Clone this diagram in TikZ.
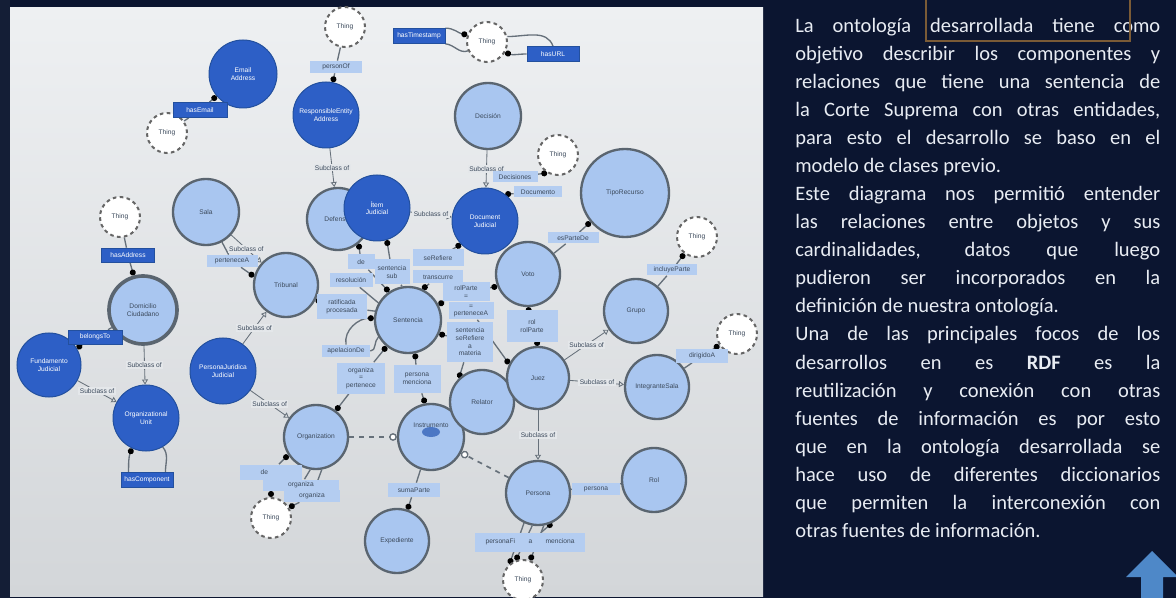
\documentclass[tikz,border=0pt]{standalone}
\usepackage{fontspec}
\setmainfont{Carlito}
\newfontfamily\diagfont{Liberation Sans}
\usetikzlibrary{arrows.meta,calc}
\definecolor{navy}{HTML}{0B1530}
\definecolor{strip}{HTML}{141E36}
\definecolor{paneltop}{HTML}{EEF0F2}
\definecolor{panelbot}{HTML}{D3D6D9}
\definecolor{sublabbg}{HTML}{E4E7EA}
\definecolor{dkblue}{HTML}{2D5FC6}
\definecolor{dkborder}{HTML}{23509E}
\definecolor{ltblue}{HTML}{A9C6F0}
\definecolor{ltborder}{HTML}{5A6570}
\definecolor{labblue}{HTML}{B4CDF1}
\definecolor{edgegray}{HTML}{66707A}
\definecolor{thinggray}{HTML}{666666}
\definecolor{txtgray}{HTML}{3C4A5C}
\definecolor{insblue}{HTML}{4C77C4}
\definecolor{arrowblue}{HTML}{4E88C8}
\definecolor{boxbrown}{HTML}{7B5B36}
\definecolor{textwhite}{HTML}{E8ECF3}
\newcommand\dgfont{\diagfont\fontsize{4}{4.6}\selectfont}
\newcommand\jline[1]{\makebox[219pt][s]{#1}}
\pgfdeclarelayer{back}
\pgfdeclarelayer{edges}
\pgfsetlayers{back,edges,main}
\tikzset{
  dnode/.style={circle, fill=dkblue, draw=dkborder, line width=0.6pt, minimum size=#1*0.6pt, inner sep=0pt, text=white, font=\dgfont, align=center},
  lnode/.style={circle, fill=ltblue, draw=ltborder, line width=1.4pt, minimum size=#1*0.6pt, inner sep=0pt, text=txtgray, font=\dgfont, align=center},
  tnode/.style={circle, fill=white, draw=thinggray, line width=1.2pt, dash pattern=on 2.2pt off 2pt, minimum size=40*0.6pt, inner sep=0pt, text=txtgray, font=\dgfont},
  dlab/.style 2 args={rectangle, fill=dkblue, draw=dkborder, line width=0.4pt, minimum width=#1*0.6pt, minimum height=#2*0.6pt, inner sep=0pt, text=white, font=\dgfont, align=center},
  llab/.style 2 args={rectangle, fill=labblue, minimum width=#1*0.6pt, minimum height=#2*0.6pt, inner sep=0pt, text=txtgray, font=\dgfont, align=center},
  rel/.style={draw=edgegray, line width=0.8pt},
  dot/.style={-{Circle[length=3.6pt,color=black]}},
  sub/.style={draw=edgegray, line width=0.5pt, -{Triangle[open,length=3pt,width=3.6pt]}},
  sublab/.style={fill=sublabbg, inner sep=0.8pt, text=txtgray, font=\dgfont},
  dsh/.style={draw=edgegray, line width=1pt, dash pattern=on 3pt off 3pt, -{Circle[length=4.6pt,color=edgegray,fill=white,line width=0.8pt]}},
  txt/.style={anchor=base west, inner sep=0pt, text=textwhite, font=\fontsize{12.3}{14}\selectfont}
}
\begin{document}
\begin{tikzpicture}[x=0.6pt,y=-0.6pt]
\useasboundingbox (0,0) rectangle (1176,598);
\begin{pgfonlayer}{back}
  \fill[navy] (0,0) rectangle (1176,598);
  \fill[strip] (0,0) rectangle (10,598);
  \shade[top color=paneltop, bottom color=panelbot] (10,8) rectangle (763,596);
\end{pgfonlayer}

% ---------- dark class nodes ----------
\node[dnode=68] (em) at (243,74) {Email\\Address};
\node[dnode=66] (rp) at (326,115) {ResponsibleEntity\\Address};
\node[lnode=62] (def) at (338,219) {Defensor};
\node[dnode=66] (it) at (377,208) {Ítem\\Judicial};
\node[dnode=66] (doc) at (485,221) {Document\\Judicial};
\node[dnode=64] (fd) at (49,365) {Fundamento\\Judicial};
\node[dnode=66] (pj) at (223,371) {PersonaJuridica\\Judicial};
\node[dnode=66] (dg) at (146,418) {Organizational\\Unit};

% ---------- light class nodes ----------
\node[lnode=66] (sala) at (206,212) {Sala};
\node[lnode=64] (trib) at (286,285) {Tribunal};
\node[lnode=66] (sent) at (408,320) {Sentencia};
\node[lnode=66] (dec) at (488,116) {Decisión};
\node[lnode=88] (tipo) at (625,193) {TipoRecurso};
\node[lnode=64] (voto) at (528,274) {Voto};
\node[lnode=64] (grupo) at (636,311) {Grupo};
\node[lnode=64] (cat) at (657,387) {IntegranteSala};
\node[lnode=64] (org) at (316,437) {Organization};
\node[lnode=66] (ins) at (431,437) {\raisebox{14pt}{Instrumento}};
\fill[insblue] ($(ins.center)+(0,-5)$) ellipse (5.4pt and 3pt);
\node[lnode=64] (rel) at (482,402) {Relator};
\node[lnode=62] (juez) at (538,378) {Juez};
\node[lnode=64] (per) at (538,493) {Persona};
\node[lnode=64] (rol) at (654,480) {Rol};
\node[lnode=64] (paq) at (397,541) {Expediente};
\node[lnode=68, line width=2.2pt] (dom) at (143,310) {Domicilio\\Ciudadano};

% ---------- Thing nodes ----------
\node[tnode] (t1) at (345,27) {Thing};
\node[tnode] (t2) at (167,133) {Thing};
\node[tnode] (t3) at (487,42) {Thing};
\node[tnode] (t4) at (558,155) {Thing};
\node[tnode] (t5) at (120,217) {Thing};
\node[tnode] (t6) at (697,237) {Thing};
\node[tnode] (t7) at (737,334) {Thing};
\node[tnode] (t8) at (271,518) {Thing};
\node[tnode] (t9) at (523,580) {Thing};

% ---------- dark property labels ----------
\node[dlab={54}{15}] (lEmail) at (200,110) {hasEmail};
\node[dlab={52}{15}] (lTime) at (419,36) {hasTimestamp};
\node[dlab={52}{15}] (lURL) at (553,54) {hasURL};
\node[dlab={53}{14}] (lAddr) at (128,255) {hasAddress};
\node[dlab={54}{14}] (lBel) at (95,337) {belongsTo};
\node[dlab={52}{15}] (lCon) at (147,480) {hasComponent};

% ---------- light property labels ----------
\node[llab={52}{12}] (lPer) at (336,67) {personOf};
\node[llab={45}{11}] (lDecs) at (515,177) {Decisiones};
\node[llab={48}{11}] (lDocs) at (538,192) {Documento};
\node[llab={51}{11}] (lEsP) at (573,238) {esParteDe};
\node[llab={50}{11}] (lInc) at (672,270) {incluyeParte};
\node[llab={52}{13}] (lDir) at (702,356) {dirigidoA};
\node[llab={51}{12}] (lPert) at (232,261) {perteneceA};
\node[llab={50}{25}] (lRat) at (342,307) {ratificada\\procesada};
\node[llab={48}{12}] (lApe) at (346,351) {apelacionDe};
\node[llab={48}{31}] (lOrgP) at (361,378) {organiza\\=\\pertenece};
\node[llab={43}{14}] (lRes) at (351,280) {resolución};
\node[llab={27}{15}] (lDe) at (361,262) {de};
\node[llab={35}{25}] (lSS) at (392,272) {sentencia\\sub};
\node[llab={51}{17}] (lSeP) at (438,258) {seRefiere};
\node[llab={50}{13}] (lTra) at (438,277) {transcurre};
\node[llab={47}{19}] (lRolP) at (466,292) {rolParte\\=};
\node[llab={45}{17}] (lPerA) at (471,311) {=\\perteneceA};
\node[llab={46}{40}] (lMat) at (470,342) {sentencia\\seRefiere\\a\\materia};
\node[llab={47}{28}] (lPM) at (417,379) {persona\\menciona};
\node[llab={51}{32}] (lRol2) at (532,326) {rol\\rolParte};
\node[llab={52}{14}] (lSum) at (414,490) {sumaParte};
\node[llab={48}{12}] (lPers) at (596,489) {persona};
\node[llab={110}{19}] (lFi) at (530,542) {personaFi\quad\quad a\quad\quad menciona};
\node[llab={62}{15}] (lO1) at (271,472) {\hspace*{-8pt}de};
\node[llab={76}{11}] (lO2) at (301,485) {organiza};
\node[llab={56}{12}] (lO3) at (312,496) {organiza};

% ---------- connectors ----------
\begin{pgfonlayer}{edges}
  \draw[rel] (t1) -- (lPer);
  \draw[rel,dot] (lPer) -- (rp);
  \draw[rel] (t2) -- (lEmail);
  \draw[rel,dot] (lEmail) -- (em);
  \draw[rel,dot] (lTime.north east) to[out=0,in=170] (t3.160);
  \draw[rel] (lTime.south east) to[out=-5,in=200] (t3.205);
  \draw[rel] (t3.15) to[out=0,in=110] (lURL.north);
  \draw[rel,dot] (lURL.west) to[out=180,in=-20] (t3.-30);
  \draw[rel] (t5) -- (lAddr);
  \draw[rel,dot] (lAddr) -- (dom);
  \draw[rel] (dom) -- (lBel);
  \draw[rel,dot] (lBel) -- (fd);
  \draw[rel,dot] ($(lCon.north west)!0.15!(lCon.north east)$) to[out=90,in=-110] (dg.-115);
  \draw[rel] ($(lCon.north west)!0.85!(lCon.north east)$) to[out=90,in=-50] (dg.-60);
  \draw[rel] (sala) -- (lPert);
  \draw[rel,dot] (lPert) -- (trib.165);
  \draw[rel,dot] (lRat) -- (trib.-27);
  \draw[rel] (lRat) -- (sent.165);
  \draw[rel,dot] (lDe) -- (def.-50);
  \draw[rel,dot] (lDe) -- (sent.124);
  \draw[rel,dot] (lSS) -- (it.-73);
  \draw[rel] (lSS) -- (sent.100);
  \draw[rel] (lRes) -- (sent.150);
  \draw[rel,dot] (lSeP) -- (doc.-136);
  \draw[rel,dot] (lTra) -- (sent.65);
  \draw[rel,dot] (lRolP) -- (sent.27);
  \draw[rel,dot] (lRolP) -- (voto.-158);
  \draw[rel,dot] (lPerA) -- (juez.154);
  \draw[rel,dot] (lMat) -- (sent.-24);
  \draw[rel,dot] (lMat) -- (rel.134);
  \draw[rel,dot] (lApe.north) to[out=100,in=180] (sent.177);
  \draw[rel] (lApe.east) to[out=0,in=-140] (sent.-150);
  \draw[rel,dot] (lOrgP) -- (sent.-129);
  \draw[rel,dot] (lOrgP) -- (org.53);
  \draw[rel,dot] (lPM) -- (sent.-78);
  \draw[rel,dot] (lPM) -- (ins.100);
  \draw[rel,dot] (lDecs) -- (t4.-121);
  \draw[rel,dot] (lDocs) -- (doc.53);
  \draw[rel] (voto) -- (lEsP);
  \draw[rel,dot] (lEsP) -- (tipo.-140);
  \draw[rel,dot] (lRol2) -- (voto.south);
  \draw[rel,dot] (lRol2) -- (juez.north);
  \draw[rel] (grupo) -- (lInc);
  \draw[rel,dot] (lInc) -- (t6);
  \draw[rel] (cat) -- (lDir);
  \draw[rel,dot] (lDir) -- (t7);
  \draw[rel] (ins) -- (lSum);
  \draw[rel,dot] (lSum) -- (paq);
  \draw[rel] (per) -- (rol);
  \draw[rel,dot] (per.-115) -- (t9.130);
  \draw[rel,dot] (per.-100) -- (t9.110);
  \draw[rel,dot] (per.-80) -- (t9.70);
  \draw[rel,dot] (lFi) -- (per.-65);
  \draw[rel,dot] (lO1) -- (org.-147);
  \draw[rel] (org.-100) -- (lO2);
  \draw[rel] (org.-80) -- (lO3);
  \draw[rel,dot] (lO1) -- (t8.north);
  \draw[rel,dot] (lO3) -- (t8.30);
  \draw[dsh] (org) -- (ins);
  \draw[dsh] (per) -- (ins);
  % subclass links
  \draw[sub] (rp) -- node[sublab]{Subclass of} (def);
  \draw[sub] (dec) -- node[sublab]{Subclass of} (doc);
  \draw[sub] (it) -- node[sublab]{Subclass of} (doc);
  \draw[sub] (sala) -- node[sublab]{Subclass of} (trib);
  \draw[sub] (pj) -- node[sublab]{Subclass of} (trib);
  \draw[sub] (pj) -- node[sublab]{Subclass of} (org);
  \draw[sub] (dom) -- node[sublab]{Subclass of} (dg);
  \draw[sub] (fd) -- node[sublab]{Subclass of} (dg);
  \draw[sub] (juez) -- node[sublab]{Subclass of} (grupo);
  \draw[sub] (juez) -- node[sublab]{Subclass of} (cat);
  \draw[sub] (juez) -- node[sublab]{Subclass of} (per);
\end{pgfonlayer}

% ---------- right text panel ----------
\node[txt] (tx1) at (795,33) {\jline{La ontología desarrollada tiene como}};
\node[txt] (tx2) at (795,61) {\jline{objetivo describir los componentes y}};
\node[txt] (tx3) at (795,89) {\jline{relaciones que tiene una sentencia de}};
\node[txt] (tx4) at (795,117) {\jline{la Corte Suprema con otras entidades,}};
\node[txt] (tx5) at (795,145) {\jline{para esto el desarrollo se baso en el}};
\node[txt] (tx6) at (795,173) {modelo de clases previo.};
\node[txt] (tx7) at (795,201) {\jline{Este diagrama nos permitió entender}};
\node[txt] (tx8) at (795,229) {\jline{las relaciones entre objetos y sus}};
\node[txt] (tx9) at (795,257) {\jline{cardinalidades, datos que luego}};
\node[txt] (tx10) at (795,285) {\jline{pudieron ser incorporados en la}};
\node[txt] (tx11) at (795,313) {definición de nuestra ontología.};
\node[txt] (tx12) at (795,341) {\jline{Una de las principales focos de los}};
\node[txt] (tx13) at (795,369) {\jline{desarrollos en es \textbf{RDF} es la}};
\node[txt] (tx14) at (795,397) {\jline{reutilización y conexión con otras}};
\node[txt] (tx15) at (795,425) {\jline{fuentes de información es por esto}};
\node[txt] (tx16) at (795,453) {\jline{que en la ontología desarrollada se}};
\node[txt] (tx17) at (795,481) {\jline{hace uso de diferentes diccionarios}};
\node[txt] (tx18) at (795,509) {\jline{que permiten la interconexión con}};
\node[txt] (tx19) at (795,537) {otras fuentes de información.};

% highlight frame and arrow
\draw[boxbrown, line width=1.3pt] (926,-4) rectangle (1130,41);
\fill[arrowblue] (1152,551) -- (1178,577) -- (1163,577) -- (1163,600) -- (1141,600) -- (1141,577) -- (1126,577) -- cycle;
\end{tikzpicture}
\end{document}
